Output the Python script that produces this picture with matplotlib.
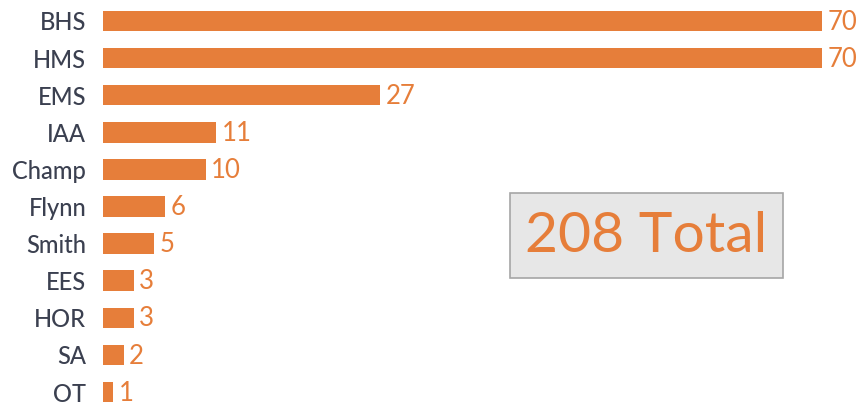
import matplotlib.pyplot as plt
from matplotlib.patches import FancyBboxPatch

schools = ['BHS', 'HMS', 'EMS', 'IAA', 'Champ', 'Flynn', 'Smith', 'EES', 'HOR', 'SA', 'OT']
counts = [70, 70, 27, 11, 10, 6, 5, 3, 3, 2, 1]
total_label = '208 Total'

orange = '#E67E3A'
label_color = '#3B4050'
plt.rcParams['font.family'] = ['Lato', 'DejaVu Sans']

fig = plt.figure(figsize=(8.59, 4.08), dpi=100)
W, H = 859, 408
ax = fig.add_axes([103 / W, 0, 1 - 103 / W, 1])

y = list(range(len(schools)))
ax.barh(y, counts, height=0.55, color=orange)

# 1 unit ~ 10.27 px, first bar centered 21px from top, rows 37.1px apart
step = 37.1
ax.set_xlim(0, (W - 103) / 10.27)
ax.set_ylim((H - 21) / step, -21 / step)

for yi, v in zip(y, counts):
    ax.annotate(str(v), (v, yi), xytext=(4, 1), textcoords='offset points',
                ha='left', va='center_baseline', color=orange, fontsize=18.5)

ax.set_yticks(y)
ax.set_yticklabels(schools, fontsize=17, color=label_color, fontweight='medium')
ax.tick_params(axis='y', length=0, pad=12)
ax.set_xticks([])
for s in ax.spines.values():
    s.set_visible(False)

# total callout box
box = FancyBboxPatch((510 / W, 1 - 278 / H), (783 - 510) / W, (278 - 193) / H,
                     boxstyle='square,pad=0', transform=fig.transFigure,
                     facecolor='#E7E7E7', edgecolor='#A6A6A6', linewidth=1.2)
fig.patches.append(box)
fig.text((510 + 783) / 2 / W, 1 - 236 / H, total_label, ha='center', va='center',
         color=orange, fontsize=41)

fig.savefig('out.png', dpi=100)
